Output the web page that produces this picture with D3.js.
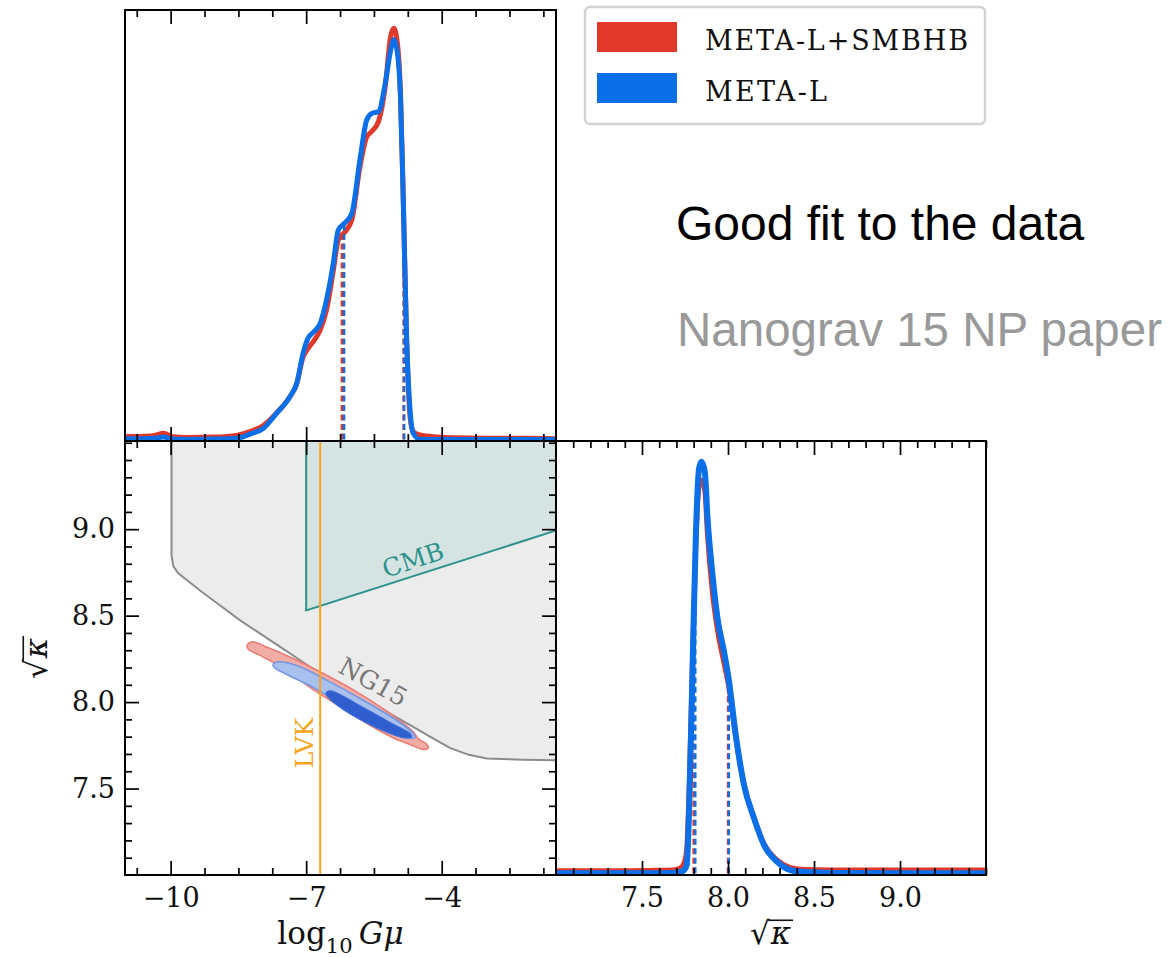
<!DOCTYPE html>
<html>
<head>
<meta charset="utf-8">
<script src="https://cdn.jsdelivr.net/npm/d3@7"></script>
<style>
  body { margin: 0; background: #fff; }
  svg { display: block; }
</style>
</head>
<body>
<svg id="fig" width="1169" height="958"></svg>
<script>
// ---------------- data ----------------
// 1D marginal of log10 Gmu (normalised density)
const gmuGrid = [-11.0, -10.6, -10.35, -10.16, -9.95, -9.65, -9.0, -8.54, -8.2, -7.95, -7.66, -7.36, -7.21, -7.07,
  -6.96, -6.83, -6.69, -6.55, -6.40, -6.29, -6.14, -5.99, -5.81, -5.66, -5.55, -5.40, -5.25, -5.13, -5.06, -4.98,
  -4.91, -4.85, -4.78, -4.70, -4.63, -4.48, -4.1, -3.74, -3.0, -2.2, -1.47];
const gmuRed = [0.007, 0.008, 0.010, 0.015, 0.007, 0.005, 0.006, 0.010, 0.021, 0.034, 0.064, 0.104, 0.135, 0.200,
  0.221, 0.240, 0.266, 0.315, 0.410, 0.485, 0.505, 0.534, 0.663, 0.736, 0.749, 0.773, 0.858, 0.980, 1.000, 0.963,
  0.834, 0.580, 0.258, 0.055, 0.019, 0.011, 0.006, 0.004, 0.003, 0.003, 0.002];
const gmuBlue = [0.002, 0.002, 0.003, 0.006, 0.001, 0.000, 0.001, 0.003, 0.015, 0.027, 0.063, 0.104, 0.136, 0.209,
  0.246, 0.262, 0.282, 0.339, 0.428, 0.509, 0.527, 0.550, 0.680, 0.777, 0.793, 0.797, 0.866, 0.947, 0.972, 0.940,
  0.826, 0.580, 0.258, 0.071, 0.015, 0.000, 0.000, 0.000, 0.000, 0.000, 0.000];
const gmuQuantRed = [-6.21, -4.845];
const gmuQuantBlue = [-6.16, -4.83];

// 1D marginal of sqrt(kappa)
const kapGrid = [7.0, 7.3, 7.533, 7.68, 7.72, 7.745, 7.76, 7.775, 7.794, 7.813, 7.832, 7.846, 7.865, 7.881, 7.910,
  7.939, 7.977, 8.006, 8.045, 8.093, 8.151, 8.209, 8.286, 8.363, 8.45, 8.6, 9.0, 9.5];
const kapRed = [0.006, 0.006, 0.007, 0.008, 0.012, 0.025, 0.06, 0.22, 0.52, 0.80, 0.94, 0.955, 0.93, 0.82, 0.68,
  0.59, 0.51, 0.45, 0.33, 0.215, 0.135, 0.072, 0.032, 0.014, 0.009, 0.008, 0.008, 0.008];
const kapBlue = [0.0, 0.0, 0.0, 0.001, 0.003, 0.008, 0.02, 0.17, 0.50, 0.82, 0.984, 1.0, 0.976, 0.862, 0.725,
  0.619, 0.538, 0.466, 0.336, 0.215, 0.134, 0.069, 0.028, 0.008, 0.003, 0.001, 0.0, 0.0];
const kapQuantRed = [7.80, 8.00];
const kapQuantBlue = [7.81, 8.005];

// Excluded regions in the (log10 Gmu, sqrt kappa) plane
const ng15Edge = [[-9.98, 9.51], [-9.98, 8.85], [-9.94, 8.785], [-9.83, 8.745], [-9.3, 8.635], [-8.91, 8.56],
  [-8.47, 8.474], [-8.0, 8.393], [-7.5, 8.306], [-7.0, 8.219], [-6.70, 8.167], [-6.2, 8.092], [-5.6, 8.002],
  [-5.0, 7.912], [-4.63, 7.857], [-4.26, 7.80], [-3.82, 7.735], [-3.4, 7.695], [-3.0, 7.674], [-2.2, 7.667],
  [-1.47, 7.664], [-1.47, 9.51]];
const cmbEdge = [[-7.0, 9.51], [-7.0, 8.53], [-1.40, 8.998], [-1.40, 9.51]];
const lvkBound = -6.69;

// 2D credible regions
const contourRed95 = [[-8.304, 8.329], [-8.207, 8.348], [-7.875, 8.319], [-7.359, 8.261], [-6.695, 8.175],
  [-5.882, 8.059], [-5.145, 7.934], [-4.63, 7.828], [-4.52, 7.789], [-4.33, 7.756], [-4.30, 7.732],
  [-4.44, 7.728], [-4.70, 7.755], [-4.997, 7.784], [-5.588, 7.866], [-6.252, 7.975], [-6.843, 8.072],
  [-7.507, 8.196], [-8.02, 8.270], [-8.28, 8.305]];
const contourBlue95 = [[-7.73, 8.219], [-7.58, 8.233], [-7.14, 8.204], [-6.547, 8.127], [-5.736, 8.011],
  [-4.997, 7.895], [-4.63, 7.818], [-4.59, 7.795], [-4.775, 7.792], [-5.366, 7.852], [-6.104, 7.968],
  [-6.843, 8.085], [-7.43, 8.160], [-7.69, 8.197]];
const contourBlue68 = [[-6.562, 8.05], [-6.473, 8.065], [-5.736, 7.969], [-5.072, 7.872], [-4.70, 7.818],
  [-4.665, 7.799], [-4.85, 7.795], [-5.514, 7.861], [-6.18, 7.957], [-6.51, 8.027]];

// axes
const gmuTicks = [-10, -7, -4];
const kapTicks = [7.5, 8.0, 8.5, 9.0];
const seriesNames = ["META-L+SMBHB", "META-L"];
const seriesColors = ["#e0382b", "#0b6fe8"];

// ---------------- layout ----------------
const X0 = 125, X1 = 556, X2 = 986;   // panel columns
const Y0 = 10, Y1 = 441, Y2 = 875;    // panel rows
const SERIF = "DejaVu Serif";
const SANS = "Liberation Sans, Arial, sans-serif";

const svg = d3.select("#fig");
svg.append("rect").attr("width", 1169).attr("height", 958).attr("fill", "#fff");

const xG = d3.scaleLinear().domain([-11.01, -1.47]).range([X0, X1]);
const yK = d3.scaleLinear().domain([7.0, 9.51]).range([Y2, Y1]);
const xK = d3.scaleLinear().domain([7.0, 9.5]).range([X1, X2]);
const yTop = d3.scaleLinear().domain([0, 1]).range([439.5, 28.3]);
const yRight = d3.scaleLinear().domain([0, 1]).range([873.3, 461.7]);

const defs = svg.append("defs");
function clip(id, x, y, w, h) {
  defs.append("clipPath").attr("id", id).append("rect").attr("x", x).attr("y", y).attr("width", w).attr("height", h);
  return `url(#${id})`;
}
const clipTop = clip("c-top", X0, Y0, X1 - X0, Y1 - Y0);
const clipMid = clip("c-mid", X0, Y1, X1 - X0, Y2 - Y1);
const clipRight = clip("c-right", X1, Y1, X2 - X1, Y2 - Y1);

function interp(xs, ys, x) {
  const i = Math.max(1, Math.min(xs.length - 1, d3.bisectRight(xs, x)));
  const t = (x - xs[i - 1]) / (xs[i] - xs[i - 1]);
  return ys[i - 1] + t * (ys[i] - ys[i - 1]);
}

// ---------------- top-left: marginal of log10 Gmu ----------------
const gTop = svg.append("g").attr("clip-path", clipTop);
[[gmuRed, gmuQuantRed, 0], [gmuBlue, gmuQuantBlue, 1]].forEach(([ys, qs, k]) => {
  const pts = gmuGrid.map((x, i) => [x, ys[i]]);
  gTop.append("path")
    .attr("d", d3.line().x(d => xG(d[0])).y(d => yTop(d[1])).curve(d3.curveMonotoneX)(pts))
    .attr("fill", "none").attr("stroke", seriesColors[k]).attr("stroke-width", 5)
    .attr("stroke-linejoin", "round").attr("stroke-linecap", "round");
  qs.forEach(q => {
    gTop.append("line")
      .attr("x1", xG(q)).attr("x2", xG(q))
      .attr("y1", yTop(0)).attr("y2", yTop(interp(gmuGrid, ys, q)))
      .attr("stroke", seriesColors[k]).attr("stroke-width", 2.4).attr("stroke-dasharray", "6,3.5");
  });
});

// ---------------- bottom-left: 2D plane ----------------
const gMid = svg.append("g").attr("clip-path", clipMid);
const lin = d3.line().x(d => xG(d[0])).y(d => yK(d[1]));
const closed = d3.line().x(d => xG(d[0])).y(d => yK(d[1])).curve(d3.curveCatmullRomClosed.alpha(0.5));

gMid.append("path").attr("d", lin(ng15Edge) + "Z")
  .attr("fill", "#ececec").attr("stroke", "none");
gMid.append("path").attr("d", lin(ng15Edge.slice(0, -1)))
  .attr("fill", "none").attr("stroke", "#8c8c8c").attr("stroke-width", 2);
gMid.append("path").attr("d", lin(cmbEdge) + "Z")
  .attr("fill", "#d5e3e2").attr("stroke", "#2d938c").attr("stroke-width", 2);

gMid.append("path").attr("d", closed(contourRed95))
  .attr("fill", "#f2aca6").attr("stroke", "#ea7d75").attr("stroke-width", 1.6);
gMid.append("path").attr("d", closed(contourBlue95))
  .attr("fill", "#a8c0ee").attr("stroke", "#7398e4").attr("stroke-width", 1.6);
gMid.append("path").attr("d", closed(contourBlue68))
  .attr("fill", "#2f5fcf").attr("stroke", "#3d6bd8").attr("stroke-width", 1.2);

gMid.append("line")
  .attr("x1", xG(lvkBound)).attr("x2", xG(lvkBound)).attr("y1", Y1).attr("y2", Y2)
  .attr("stroke", "#f7a520").attr("stroke-width", 2);

function rotLabel(g, text, x, y, angle, color) {
  g.append("text").attr("transform", `translate(${x},${y}) rotate(${angle})`)
    .attr("text-anchor", "middle").attr("dominant-baseline", "central")
    .attr("font-family", SERIF).attr("font-size", 25).attr("fill", color).text(text);
}
rotLabel(svg, "CMB", 413, 560, -18.4, "#2d938c");
rotLabel(svg, "NG15", 373, 682, 29, "#777777");
rotLabel(svg, "LVK", 304, 743, -90, "#f7a520");

// ---------------- bottom-right: marginal of sqrt(kappa) ----------------
const gRight = svg.append("g").attr("clip-path", clipRight);
[[kapRed, kapQuantRed, 0], [kapBlue, kapQuantBlue, 1]].forEach(([ys, qs, k]) => {
  const pts = kapGrid.map((x, i) => [x, ys[i]]);
  gRight.append("path")
    .attr("d", d3.line().x(d => xK(d[0])).y(d => yRight(d[1])).curve(d3.curveMonotoneX)(pts))
    .attr("fill", "none").attr("stroke", seriesColors[k]).attr("stroke-width", k ? 6 : 5)
    .attr("stroke-linejoin", "round").attr("stroke-linecap", "round");
  qs.forEach(q => {
    gRight.append("line")
      .attr("x1", xK(q)).attr("x2", xK(q))
      .attr("y1", yRight(0)).attr("y2", yRight(interp(kapGrid, ys, q)))
      .attr("stroke", seriesColors[k]).attr("stroke-width", 2.4).attr("stroke-dasharray", "6,3.5");
  });
});

// ---------------- ticks & frames ----------------
const gmuMinor = d3.range(-10.75, -1.5, 0.75).filter(v => !gmuTicks.some(t => Math.abs(t - v) < 1e-6));
const kapMinor = d3.range(7.1, 9.5, 0.1).filter(v => !kapTicks.some(t => Math.abs(t - v) < 1e-6));

function ticks(axisFn, scale, major, minor, tx, ty, labels) {
  const g = svg.append("g").attr("transform", `translate(${tx},${ty})`);
  g.append("g").call(axisFn(scale).tickValues(minor).tickSizeInner(-7).tickSizeOuter(0).tickFormat(""));
  const gm = g.append("g").call(axisFn(scale).tickValues(major).tickSizeInner(-14).tickSizeOuter(0)
    .tickPadding(axisFn === d3.axisLeft ? 10 : 13)
    .tickFormat(labels ? labels : () => ""));
  g.selectAll(".domain").remove();
  g.selectAll("line").attr("stroke", "#000").attr("stroke-width", 1.7);
  gm.attr("font-family", SERIF).attr("font-size", 27);
  gm.selectAll("text").attr("fill", "#111");
}
const fmtG = d3.format("d");
const fmtK = d3.format(".1f");
// top-left
ticks(d3.axisTop, xG, gmuTicks, gmuMinor, 0, Y0, null);
ticks(d3.axisBottom, xG, gmuTicks, gmuMinor, 0, Y1, null);
// bottom-left
ticks(d3.axisTop, xG, gmuTicks, gmuMinor, 0, Y1, null);
ticks(d3.axisBottom, xG, gmuTicks, gmuMinor, 0, Y2, fmtG);
ticks(d3.axisLeft, yK, kapTicks, kapMinor, X0, 0, fmtK);
ticks(d3.axisRight, yK, kapTicks, kapMinor, X1, 0, null);
// bottom-right
ticks(d3.axisTop, xK, kapTicks, kapMinor, 0, Y1, null);
ticks(d3.axisBottom, xK, kapTicks, kapMinor, 0, Y2, fmtK);

[[X0, Y0, X1, Y1], [X0, Y1, X1, Y2], [X1, Y1, X2, Y2]].forEach(([a, b, c, d]) => {
  svg.append("rect").attr("x", a).attr("y", b).attr("width", c - a).attr("height", d - b)
    .attr("fill", "none").attr("stroke", "#000").attr("stroke-width", 2);
});

// ---------------- axis labels ----------------
const gl = svg.append("text").attr("x", (X0 + X1) / 2).attr("y", 944).attr("text-anchor", "middle")
  .attr("font-family", SERIF).attr("font-size", 31).attr("fill", "#111");
gl.append("tspan").text("log");
gl.append("tspan").attr("font-size", 21).attr("dy", 9).text("10");
gl.append("tspan").attr("dy", -9).text("\u2009");
gl.append("tspan").attr("font-style", "italic").text("Gμ");

function sqrtKappa(cx, cy, angle) {
  const fs = 31;
  const grp = svg.append("g").attr("transform", `translate(${cx},${cy}) rotate(${angle})`);
  const inner = grp.append("g");
  const rad = inner.append("text").attr("font-family", SERIF).attr("font-size", fs).attr("fill", "#111").text("√");
  const rw = rad.node().getComputedTextLength();
  const k = inner.append("text").attr("x", rw + 1).attr("font-family", SERIF).attr("font-style", "italic")
    .attr("font-size", fs).attr("fill", "#111").text("κ");
  const kw = k.node().getComputedTextLength();
  inner.append("line").attr("x1", rw - 1.5).attr("x2", rw + kw + 3)
    .attr("y1", -0.775 * fs).attr("y2", -0.775 * fs).attr("stroke", "#111").attr("stroke-width", 1.6);
  inner.attr("transform", `translate(${-(rw + kw + 2) / 2},${0.3 * fs})`);
}
sqrtKappa((X1 + X2) / 2, 935, 0);
sqrtKappa(38, 658, -90);

// ---------------- legend ----------------
const leg = svg.append("g");
leg.append("rect").attr("x", 585).attr("y", 7).attr("width", 400).attr("height", 117).attr("rx", 5)
  .attr("fill", "#fff").attr("stroke", "#d2d2d2").attr("stroke-width", 2.5);
const legendWidths = [263, 122];
seriesNames.forEach((name, i) => {
  const y = 22 + i * 51;
  leg.append("rect").attr("x", 597).attr("y", y).attr("width", 80).attr("height", 30).attr("fill", seriesColors[i]);
  leg.append("text").attr("x", 705).attr("y", y + 28).attr("font-family", SERIF).attr("font-size", 27)
    .attr("textLength", legendWidths[i]).attr("lengthAdjust", "spacing")
    .attr("fill", "#111").text(name);
});

// ---------------- annotations ----------------
svg.append("text").attr("x", 676).attr("y", 240).attr("font-family", SANS).attr("font-size", 48)
  .attr("fill", "#000").text("Good fit to the data");
svg.append("text").attr("x", 677).attr("y", 346).attr("font-family", SANS).attr("font-size", 47.5)
  .attr("fill", "#999").text("Nanograv 15 NP paper");
</script>
</body>
</html>
